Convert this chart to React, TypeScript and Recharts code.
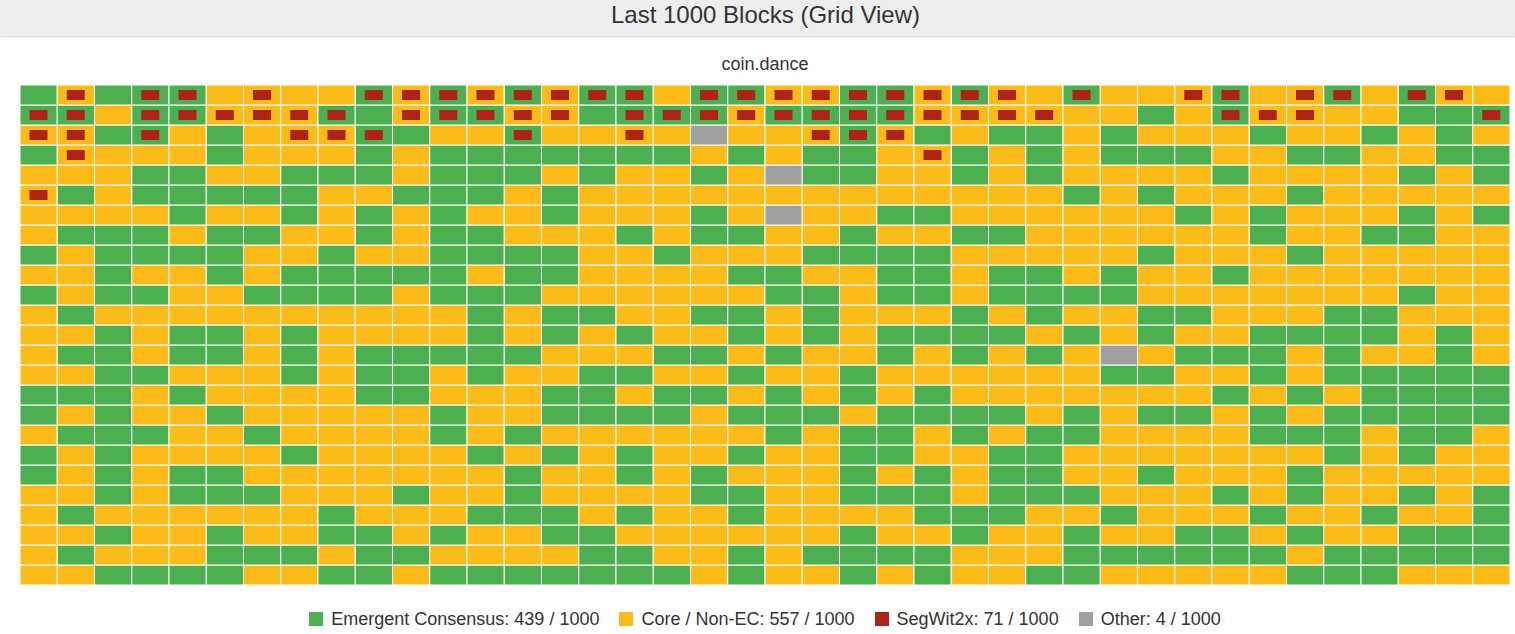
import { Bar, BarChart, Legend, XAxis, YAxis } from 'recharts'

// one string per grid row, one letter per block
// G = Emergent Consensus, Y = Core / Non-EC, X = Other
// lowercase letter = the block also signals SegWit2x
const gridRows = [
  'GyGggYyYYg' + 'ygygyggYgg' + 'yyggygyYgY' + 'YygYygYgyY',
  'ggYggyyygG' + 'yggyyGgggy' + 'ggggyyyyYY' + 'GYgyyYYGGg',
  'yyGgYGYyyg' + 'GYYgYYyYXY' + 'YygyGYGGYG' + 'YYYGYYGYGY',
  'GyYYYGYYYG' + 'YGGGGGGGYG' + 'YGGYyGYGYG' + 'GGYYGGYYGG',
  'YYYGGYYGGG' + 'YGGGYGYYGY' + 'XGGYYGYGYY' + 'YYGYYYYGYG',
  'yGYGGGGGYY' + 'GGGYGYYYYY' + 'YYYYYYYYGY' + 'GYYYGYYYYY',
  'YYYYGYYGYG' + 'YGYYGYYYGY' + 'XYYGGYYYYY' + 'YGYGYYYGYG',
  'YGGGYGGYYG' + 'YGGYYYGYGG' + 'YYGYYGGYYY' + 'YYYGYYGGYY',
  'GYGGGGYYGY' + 'YGGGGYYGYY' + 'YGGGGYYYYY' + 'GYYYGYYYYY',
  'YYGYYGYGGG' + 'GGYGGYYYYG' + 'GYYGGYGGYG' + 'YYGYYYYYYY',
  'GYGGYYGGGG' + 'YGGGYYYYYY' + 'GGYGGYGGGG' + 'YYYYYYYGYY',
  'YGYYYYYYYY' + 'YYGYGGYYGG' + 'YGYYYGYGYY' + 'GGYYYGGYYY',
  'YYGYGGYGYY' + 'YYGYGYGYYG' + 'YGYGGGGYGY' + 'GYYGGGGYGY',
  'YGGYGGYGYG' + 'GGGGYYYGGY' + 'GYYGYGYGYX' + 'YGGGYGYYGY',
  'YYGGYYYGYG' + 'GYGYYGGYYG' + 'YYGYYYYYYG' + 'GYYGYGGGGG',
  'GGGYGYYYYG' + 'GYYYGGYGGY' + 'GYGYGYYYYY' + 'YYGYGYGGGG',
  'GYGYYGYYYY' + 'YGYYGGGGYG' + 'GGYGGGGYGY' + 'GGYGYGGGGG',
  'YGGGYYGYYY' + 'YGYGYYYYYY' + 'GYGGYGYGGY' + 'YYYGGGYGGY',
  'GYGYYYYGYY' + 'YYGYGYGYYG' + 'YYGGYYGGYY' + 'YYYYYGYGYY',
  'GYGYGGYYYY' + 'YYYGYYGYGY' + 'YYGYGYGGYY' + 'GYYYGYYYYY',
  'YYGYGGGYYY' + 'GYYGYYYYGG' + 'YYGGGYGGGY' + 'YYGYGYYGYG',
  'YGYYYYYYGY' + 'YYGGGYGYYG' + 'YYYYGGGYYG' + 'YYYGYYGYYG',
  'YYGYYGYYGG' + 'YGYYGGYYYY' + 'YYGYYGYYGY' + 'YGGYGYYGGG',
  'YGYYYGGGYG' + 'GYYYYGGYYG' + 'YGGGGYYYGG' + 'GGGGYGGGGG',
  'YYGGGGYYGG' + 'YGGGGGGGYG' + 'YYGYGYYGGY' + 'YYYYGGGYYY',
]

const legendLabels = ['Emergent Consensus', 'Core / Non-EC', 'SegWit2x', 'Other']
const legendCounts = [439, 557, 71, 4]
const totalBlocks = 1000

const GREEN = '#4CAF50'
const YELLOW = '#FBBC1A'
const RED = '#AD2417'
const GRAY = '#A0A0A0'
const legendColors = [GREEN, YELLOW, RED, GRAY]

const columns = gridRows[0].split('').map((_, i) => i)
const rowKeys = gridRows.map((_, r) => `r${r}`)

// every block counts as 1 in its column's stack
const data = columns.map((col) => {
  const entry: Record<string, number> = { col }
  rowKeys.forEach((key) => {
    entry[key] = 1
  })
  return entry
})

function GridCell(props: any) {
  const { x, y, width, height, index, row } = props
  const code: string = gridRows[row][index]
  const top = height < 0 ? y + height : y
  const h = Math.abs(height)
  const kind = code.toUpperCase()
  const fill = kind === 'G' ? GREEN : kind === 'X' ? GRAY : YELLOW
  const segwit = code !== kind
  return (
    <g>
      <rect x={x} y={top} width={width + 0.25} height={h} fill={fill} stroke='#ffffff' strokeWidth={1} />
      {segwit && (
        <rect x={x + width / 2 - 9} y={top + h / 2 - 5} width={18} height={10} fill={RED} />
      )}
    </g>
  )
}

function BlockLegend() {
  return (
    <div
      style={{
        display: 'flex',
        justifyContent: 'center',
        alignItems: 'center',
        height: 30,
        fontSize: 18,
        color: '#333333',
      }}
    >
      {legendLabels.map((label, i) => (
        <span key={label} style={{ display: 'flex', alignItems: 'center', margin: '0 10px' }}>
          <span
            style={{ display: 'inline-block', width: 14, height: 14, background: legendColors[i], marginRight: 8 }}
          />
          {`${label}: ${legendCounts[i]} / ${totalBlocks}`}
        </span>
      ))}
    </div>
  )
}

export default function App() {
  return (
    <div
      style={{
        position: 'fixed',
        left: 0,
        top: 0,
        width: 1515,
        height: 634,
        background: '#ffffff',
        fontFamily: '"Liberation Sans", Arial, sans-serif',
        overflow: 'hidden',
      }}
    >
      <div
        style={{
          position: 'absolute',
          left: 0,
          top: 0,
          width: 1515,
          height: 36,
          background: '#eeeeee',
          borderBottom: '1px solid #e2e2e2',
          boxShadow: '0 1px 2px rgba(0,0,0,0.08)',
          textAlign: 'center',
          lineHeight: '30px',
          fontSize: 24,
          color: '#333333',
        }}
      >
        <span style={{ position: 'relative', left: 8 }}>Last 1000 Blocks (Grid View)</span>
      </div>
      <div
        style={{
          position: 'absolute',
          left: 0,
          top: 52,
          width: 1530,
          textAlign: 'center',
          lineHeight: '24px',
          fontSize: 18,
          color: '#333333',
        }}
      >
        coin.dance
      </div>
      <div style={{ position: 'absolute', left: 0, top: 0 }}>
        <BarChart
          width={1515}
          height={634}
          data={data}
          margin={{ top: 85, right: 5, bottom: 19, left: 20 }}
          barCategoryGap={0}
          barGap={0}
        >
          <XAxis dataKey='col' type='category' hide />
          <YAxis type='number' domain={[0, gridRows.length]} hide />
          <Legend content={<BlockLegend />} verticalAlign='bottom' wrapperStyle={{ bottom: 0 }} />
          {[...rowKeys].reverse().map((key) => {
            const row = rowKeys.indexOf(key)
            return (
              <Bar
                key={key}
                dataKey={key}
                stackId='grid'
                isAnimationActive={false}
                shape={(p: any) => <GridCell {...p} row={row} />}
              />
            )
          })}
        </BarChart>
      </div>
    </div>
  )
}
